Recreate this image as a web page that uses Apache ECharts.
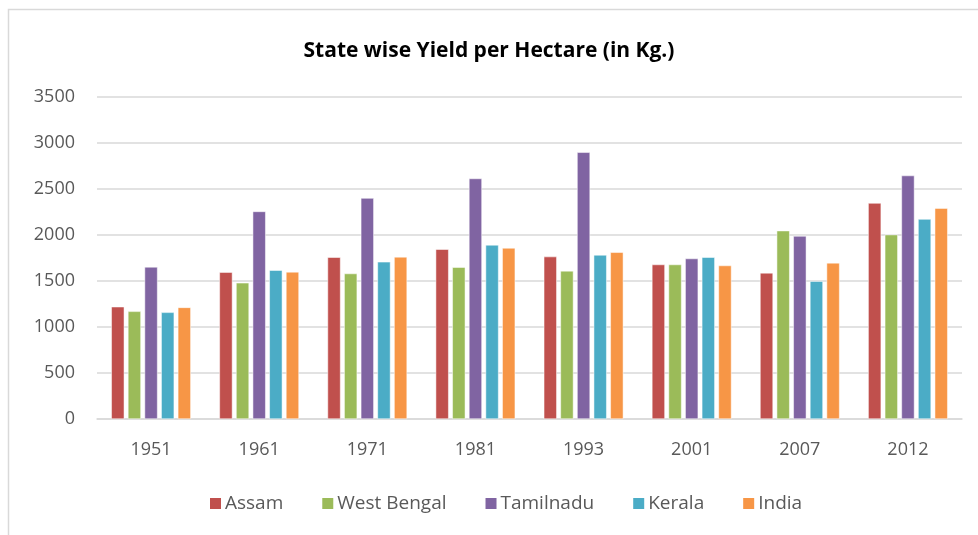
<!DOCTYPE html>
<html>
<head>
    <meta charset="utf-8">
    <title>State wise Yield per Hectare</title>
    <script src="https://cdn.jsdelivr.net/npm/echarts@6/dist/echarts.min.js"></script>
    <style>
        html, body { margin: 0; padding: 0; background: #fff; }
    </style>
</head>
<body>
<div id="main" style="width: 978px;height:535px;"></div>
<script type="text/javascript">
    // data
    var years = ['1951', '1961', '1971', '1981', '1993', '2001', '2007', '2012'];
    var assam = [1220, 1596, 1758, 1845, 1765, 1679, 1588, 2347];
    var westBengal = [1170, 1480, 1581, 1650, 1610, 1679, 2047, 2004];
    var tamilnadu = [1653, 2256, 2401, 2614, 2899, 1744, 1989, 2646];
    var kerala = [1159, 1617, 1708, 1892, 1783, 1758, 1498, 2173];
    var india = [1213, 1599, 1762, 1859, 1812, 1668, 1697, 2292];

    var names = ['Assam', 'West Bengal', 'Tamilnadu', 'Kerala', 'India'];
    var colors = ['#C0504D', '#9BBB59', '#8064A2', '#4BACC6', '#F79646'];
    var values = [assam, westBengal, tamilnadu, kerala, india];

    var font = 'Open Sans, Noto Sans, sans-serif';

    var myChart = echarts.init(document.getElementById('main'));

    var series = names.map(function (n, i) {
        return {
            name: n,
            type: 'bar',
            data: values[i],
            barWidth: 13,
            barGap: '28%',
            itemStyle: { color: colors[i], borderColor: '#fff', borderWidth: 0.5 }
        };
    });

    var option = {
        animation: false,
        color: colors,
        title: {
            text: 'State wise Yield per Hectare (in Kg.)',
            left: 'center',
            top: 36,
            textStyle: { fontFamily: font, fontSize: 21, fontWeight: 'bold', color: '#000' }
        },
        graphic: [{
            type: 'rect',
            shape: { x: 8.5, y: 9.5, width: 1100, height: 700 },
            style: { fill: 'none', stroke: '#d9d9d9', lineWidth: 1.5 },
            silent: true
        }],
        legend: {
            bottom: 17,
            left: 203,
            itemWidth: 13,
            itemHeight: 13,
            itemGap: 37,
            icon: 'rect',
            textStyle: { fontFamily: font, fontSize: 19, color: '#595959', padding: [0, 0, 0, -2] },
            data: names
        },
        grid: { left: 97, right: 16, top: 97, bottom: 116 },
        xAxis: {
            type: 'category',
            data: years,
            axisLine: { lineStyle: { color: '#d9d9d9', width: 1.5 } },
            axisTick: { show: false },
            axisLabel: { fontFamily: font, fontSize: 18, color: '#595959', margin: 22 }
        },
        yAxis: {
            type: 'value',
            min: 0,
            max: 3500,
            interval: 500,
            axisLine: { show: false },
            axisTick: { show: false },
            splitLine: { lineStyle: { color: '#d9d9d9', width: 1.5 } },
            axisLabel: {
                fontFamily: font, fontSize: 18, color: '#595959', margin: 22,
                formatter: function (v) { return String(v); }
            }
        },
        series: series
    };
    myChart.setOption(option);
</script>
</body>
</html>
